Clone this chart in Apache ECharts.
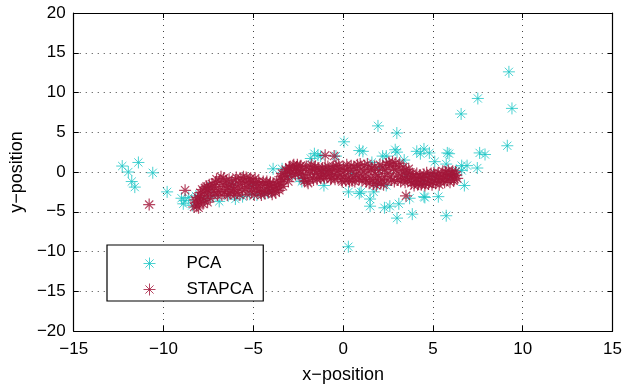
<!DOCTYPE html>
<html>
<head>
<meta charset="utf-8">
<script src="https://cdn.jsdelivr.net/npm/echarts@6/dist/echarts.min.js"></script>
<style>
html,body{margin:0;padding:0;background:#fff;}
#chart{width:625px;height:389px;}
</style>
</head>
<body>
<div id="chart"></div>
<script>
// ---- data ----
const seriesNames = ['PCA', 'STAPCA'];
const xLabel = 'x\u2212position';
const yLabel = 'y\u2212position';

const pcaData = [
  [-12.3,0.75],[-11.4,1.2],[-11.96,0.0],[-11.77,-1.2],[-11.6,-1.9],[-10.6,-0.1],
  [-9.8,-2.5],[-9.0,-3.3],[-8.8,-3.6],[-8.9,-4.0],[-8.6,-3.2],[-8.4,-4.2],[-8.2,-3.0],
  [-7.7,-3.4],[-7.3,-3.1],[-6.9,-3.7],[-6.4,-3.0],[-6.0,-3.4],[-5.6,-3.1],[-5.2,-2.8],
  [-4.8,-2.9],[-4.4,-2.7],[-4.0,-2.5],[-4.2,-2.6],[-3.9,0.4],[-3.4,0.4],[-2.45,-0.8],
  [-2.3,-1.2],[-1.8,1.7],[-1.4,2.1],[-1.25,2.0],[-1.6,2.3],[-1.07,-1.7],[-0.4,2.0],
  [0.05,3.8],[0.9,2.7],[1.1,2.6],[1.94,5.8],[2.99,4.9],[2.9,2.8],[3.0,2.5],[2.2,2.0],
  [2.4,2.0],[1.6,1.2],[3.4,1.5],[4.1,2.6],[4.5,2.9],[4.8,2.4],[4.3,2.3],[5.8,2.4],
  [5.9,2.3],[7.6,2.4],[7.9,2.2],[9.14,3.3],[5.74,1.0],[5.1,1.3],[6.6,0.8],[6.9,0.8],
  [6.3,0.2],[6.6,0.2],[7.47,0.5],[6.0,-0.4],[6.75,-1.7],[4.5,-1.2],[0.3,-2.5],[0.9,-2.7],
  [1.0,-2.5],[1.5,-3.4],[1.7,-2.5],[1.9,-1.5],[2.4,-1.7],[1.5,-4.3],[2.3,-4.5],[2.6,-4.3],
  [3.1,-4.0],[3.7,-3.3],[3.0,-5.8],[3.85,-5.3],[4.5,-3.1],[5.3,-3.1],[4.55,-3.2],
  [5.74,-5.5],[0.29,-9.4],[6.57,7.3],[7.5,9.25],[9.4,8.0],[9.23,12.6],
  [-7.5,-2.0],[-6.2,-1.5],[-5.0,-1.6],[-3.0,-0.5],[-1.0,0.2],[0.5,-0.2],[2.0,0.5],[3.5,-0.5],[5.0,-0.5]
];

const stapcaPass1 = [
  [-10.8,-4.1],[-8.8,-2.3],
  [-8.3,-4.4],[-8.2,-3.8],[-8.15,-4.3],[-8.1,-3.2],[-8.0,-3.9],[-7.95,-2.6],[-7.9,-3.4],
  [-7.85,-2.2],[-7.8,-4.0],[-7.7,-2.0],[-7.65,-3.0],[-7.6,-1.8],[-7.5,-2.6],[-7.45,-1.6],
  [-7.4,-3.3],[-7.3,-1.5],[-7.2,-2.4],[-7.1,-1.3],[-7.0,-2.9],[-6.9,-1.2],[-6.85,-2.2],
  [-6.8,-0.6],[-6.7,-1.6],[-6.6,-2.5],[-6.5,-1.1],[-6.4,-1.9],[-6.3,-2.7],[-6.2,-1.4],
  [-6.1,-2.2],[-6.0,-1.0],[-5.9,-2.6],[-5.8,-1.6],[-5.7,-0.8],[-5.6,-2.3],[-5.5,-1.2],
  [-5.4,-0.7],[-5.3,-1.8],[-5.2,-0.9],[-5.1,-2.5],[-5.0,-1.4],[-4.9,-0.8],[-4.8,-2.0],
  [-4.7,-1.2],[-4.6,-2.6],[-4.5,-1.6],[-4.4,-2.3],[-4.3,-1.4],[-4.2,-2.0],[-4.1,-1.7],
  [-4.0,-2.5],[-3.9,-1.5],[-3.8,-2.2],[-3.7,-1.2],[-3.6,-2.0],[-3.5,-0.6],[-3.45,-1.5],
  [-3.4,-0.2],[-3.3,-1.0],[-3.2,0.3],[-3.1,-0.6],[-3.0,0.5],[-2.9,-0.1],[-2.8,0.8],
  [-2.7,0.2],[-2.6,0.6],[-2.5,-0.2],[-2.4,0.7],[-2.3,0.0],[-2.2,-0.8],[-2.1,0.4],
  [-2.0,-1.2],[-1.9,-0.3],[-1.8,0.6],[-1.7,-0.7],[-1.6,0.3],[-1.5,-0.2],[-1.4,0.5],
  [-1.3,-0.6],[-1.2,0.1],[-1.1,-0.4],[-1.0,0.6],[-0.9,-0.5],[-0.8,0.2],[-0.7,-0.9],
  [-0.6,0.4],[-0.5,-0.3],[-0.4,0.8],[-0.3,-0.6],[-0.2,0.3],[-0.1,-1.0],[0.0,0.5],
  [0.1,-0.4],[0.2,0.9],[0.3,-0.8],[0.4,0.2],[0.5,-1.1],[0.6,0.6],[0.7,-0.3],[0.8,0.9],
  [0.9,-0.9],[1.0,0.3],[1.1,-0.5],[1.2,0.8],[1.3,-1.2],[1.4,0.1],[1.5,-0.7],[1.6,0.5],
  [1.7,-1.5],[1.8,-0.3],[1.9,-1.0],[2.0,0.2],[2.1,-1.4],[2.2,0.6],[2.3,-0.6],[2.4,1.0],
  [2.5,-0.2],[2.6,0.8],[2.7,-1.0],[2.8,0.4],[2.9,1.1],[3.0,-0.4],[3.1,0.7],[3.2,-1.2],
  [3.3,0.0],[3.4,-0.8],[3.5,0.3],[3.6,-1.0],[3.7,-0.3],[3.8,-1.4],[3.9,-0.6],[4.0,-1.2],
  [4.1,-0.2],[4.2,-1.5],[4.3,-0.7],[4.4,-1.1],[4.5,-0.3],[4.6,-1.4],[4.7,-0.6],[4.8,-1.0],
  [4.9,-0.2],[5.0,-1.3],[5.1,-0.5],[5.2,-0.9],[5.3,-0.1],[5.4,-1.2],[5.5,-0.4],[5.6,-0.8],
  [5.7,0.0],[5.8,-1.0],[5.9,-0.3],[6.0,-0.6],[6.1,0.1],[6.2,-0.9],[6.3,-0.4],
  [-0.5,2.0],[-1.0,2.1],[3.5,-3.0],[-3.0,0.6]
];

const stapcaPass2 = [
  [-8.25,-3.5],[-8.05,-4.5],[-7.95,-3.0],[-7.75,-2.4],[-7.75,-3.6],[-7.55,-2.2],[-7.55,-3.8],
  [-7.35,-2.0],[-7.25,-2.9],[-7.15,-1.8],[-7.05,-0.9],[-6.95,-2.5],[-6.75,-2.9],[-6.65,-0.8],
  [-6.55,-1.8],[-6.45,-2.9],[-6.35,-0.9],[-6.25,-2.4],[-6.15,-1.7],[-6.05,-2.9],[-5.95,-0.7],
  [-5.85,-2.0],[-5.75,-2.9],[-5.65,-1.3],[-5.55,-0.6],[-5.45,-2.1],[-5.35,-2.8],[-5.25,-1.4],
  [-5.15,-0.8],[-5.05,-2.0],[-4.95,-2.9],[-4.85,-1.3],[-4.75,-2.4],[-4.65,-1.7],[-4.55,-2.9],
  [-4.45,-1.2],[-4.35,-2.7],[-4.25,-1.2],[-4.15,-2.4],[-4.05,-1.3],[-3.95,-2.8],[-3.85,-1.8],
  [-3.75,-2.6],[-3.65,-1.6],[-3.55,-2.3],[-3.45,-0.9],[-3.35,-1.8],[-3.25,-0.4],[-3.15,0.1],
  [-3.05,-1.2],[-2.95,0.4],[-2.85,-0.5],[-2.75,0.9],[-2.65,-0.3],[-2.55,0.9],[-2.45,0.2],
  [-2.35,0.8],[-2.25,-0.4],[-2.15,-1.1],[-2.05,0.7],[-1.95,-1.4],[-1.85,0.2],[-1.75,0.9],
  [-1.65,-1.0],[-1.55,0.7],[-1.45,-0.9],[-1.35,0.3],[-1.25,-0.8],[-1.15,0.5],[-1.05,-0.8],
  [-0.95,0.0],[-0.85,0.7],[-0.75,-0.2],[-0.65,-0.8],[-0.55,0.7],[-0.45,-0.9],[-0.35,0.1],
  [-0.25,0.9],[-0.15,-0.4],[-0.05,-1.2],[0.05,0.1],[0.15,-1.1],[0.25,0.4],[0.35,-1.2],
  [0.45,0.8],[0.55,-0.6],[0.65,-1.2],[0.75,0.4],[0.85,-0.6],[0.95,1.0],[1.05,-1.1],
  [1.15,0.0],[1.25,-0.9],[1.35,1.0],[1.45,-1.4],[1.55,0.3],[1.65,-1.0],[1.75,0.7],
  [1.85,-1.7],[1.95,-0.5],[2.05,0.9],[2.15,-0.9],[2.25,-1.6],[2.35,0.3],[2.45,-1.1],
  [2.55,1.2],[2.65,-0.6],[2.75,1.3],[2.85,-1.2],[2.95,0.2],[3.05,-1.0],[3.15,1.1],
  [3.25,-0.6],[3.35,0.6],[3.45,-1.3],[3.55,-0.2],[3.65,0.4],[3.75,-1.1],[3.85,-0.2],
  [3.95,-1.7],[4.05,-0.8],[4.15,-1.6],[4.25,-0.4],[4.35,-1.6],[4.45,-0.7],[4.55,-1.7],
  [4.65,-0.1],[4.75,-1.5],[4.85,-0.6],[4.95,-1.6],[5.05,-0.1],[5.15,-1.4],[5.25,-0.5],
  [5.35,-1.6],[5.45,-0.8],[5.55,0.1],[5.65,-1.3],[5.75,-0.6],[5.85,0.2],[5.95,-1.3],
  [6.05,-0.2],[6.15,-1.1],[6.25,0.0],[6.35,-0.8]
];

const stapcaData = stapcaPass1.concat(stapcaPass2);

// ---- styling ----
const FONT = 'Liberation Sans';
const pcaColor = '#1cc6c6';
const stapcaColor = '#a3173a';
const star = 'path://M0,6L12,6M6,0L6,12M1.9,1.9L10.1,10.1M10.1,1.9L1.9,10.1';
const minusFmt = v => String(v).replace('-', '\u2212');

const chart = echarts.init(document.getElementById('chart'), null, {renderer: 'canvas'});
chart.setOption({
  animation: false,
  backgroundColor: '#fff',
  grid: {left: 70, right: 10, top: 13, bottom: 56, containLabel: false},
  xAxis: [
    {
      type: 'value', min: -15, max: 15, interval: 5, position: 'bottom',
      name: xLabel, nameLocation: 'middle', nameGap: 35,
      nameTextStyle: {fontFamily: FONT, fontSize: 18, color: '#000'},
      axisLine: {show: true, onZero: false, lineStyle: {color: '#000', width: 1.2}},
      axisTick: {show: true, inside: true, length: 5, lineStyle: {color: '#000'}},
      axisLabel: {fontFamily: FONT, fontSize: 17, color: '#000', margin: 10, formatter: minusFmt},
      splitLine: {show: true, lineStyle: {color: '#444', type: [1, 5], width: 1}}
    },
    {
      type: 'value', min: -15, max: 15, interval: 5, position: 'top',
      axisLine: {show: true, onZero: false, lineStyle: {color: '#000', width: 1.2}},
      axisTick: {show: true, inside: true, length: 5, lineStyle: {color: '#000'}},
      axisLabel: {show: false}, splitLine: {show: false}
    }
  ],
  yAxis: [
    {
      type: 'value', min: -20, max: 20, interval: 5, position: 'left',
      name: yLabel, nameLocation: 'middle', nameGap: 36,
      nameTextStyle: {fontFamily: FONT, fontSize: 18, color: '#000'},
      axisLine: {show: true, onZero: false, lineStyle: {color: '#000', width: 1.2}},
      axisTick: {show: true, inside: true, length: 5, lineStyle: {color: '#000'}},
      axisLabel: {fontFamily: FONT, fontSize: 17, color: '#000', margin: 8, formatter: minusFmt},
      splitLine: {show: true, lineStyle: {color: '#444', type: [1, 5], width: 1}}
    },
    {
      type: 'value', min: -20, max: 20, interval: 5, position: 'right',
      axisLine: {show: true, onZero: false, lineStyle: {color: '#000', width: 1.2}},
      axisTick: {show: true, inside: true, length: 5, lineStyle: {color: '#000'}},
      axisLabel: {show: false}, splitLine: {show: false}
    }
  ],
  legend: {
    left: 107, top: 245, orient: 'vertical',
    backgroundColor: '#fff', borderColor: '#000', borderWidth: 1.2,
    padding: [10, 10, 3, 36], itemGap: 9,
    itemWidth: 12, itemHeight: 12,
    textStyle: {fontFamily: FONT, fontSize: 17, color: '#000', padding: [0, 0, 0, 26], lineHeight: 14},
    data: [
      {name: seriesNames[0], icon: star, itemStyle: {color: pcaColor, borderColor: pcaColor, borderWidth: 1}},
      {name: seriesNames[1], icon: star, itemStyle: {color: stapcaColor, borderColor: stapcaColor, borderWidth: 1}}
    ]
  },
  series: [
    {
      name: seriesNames[0], type: 'scatter', data: pcaData,
      symbol: star, symbolSize: 12,
      itemStyle: {color: pcaColor, borderColor: pcaColor, borderWidth: 1}
    },
    {
      name: seriesNames[1], type: 'scatter', data: stapcaData,
      symbol: star, symbolSize: 12,
      itemStyle: {color: stapcaColor, borderColor: stapcaColor, borderWidth: 1.2}
    }
  ]
});
</script>
</body>
</html>
